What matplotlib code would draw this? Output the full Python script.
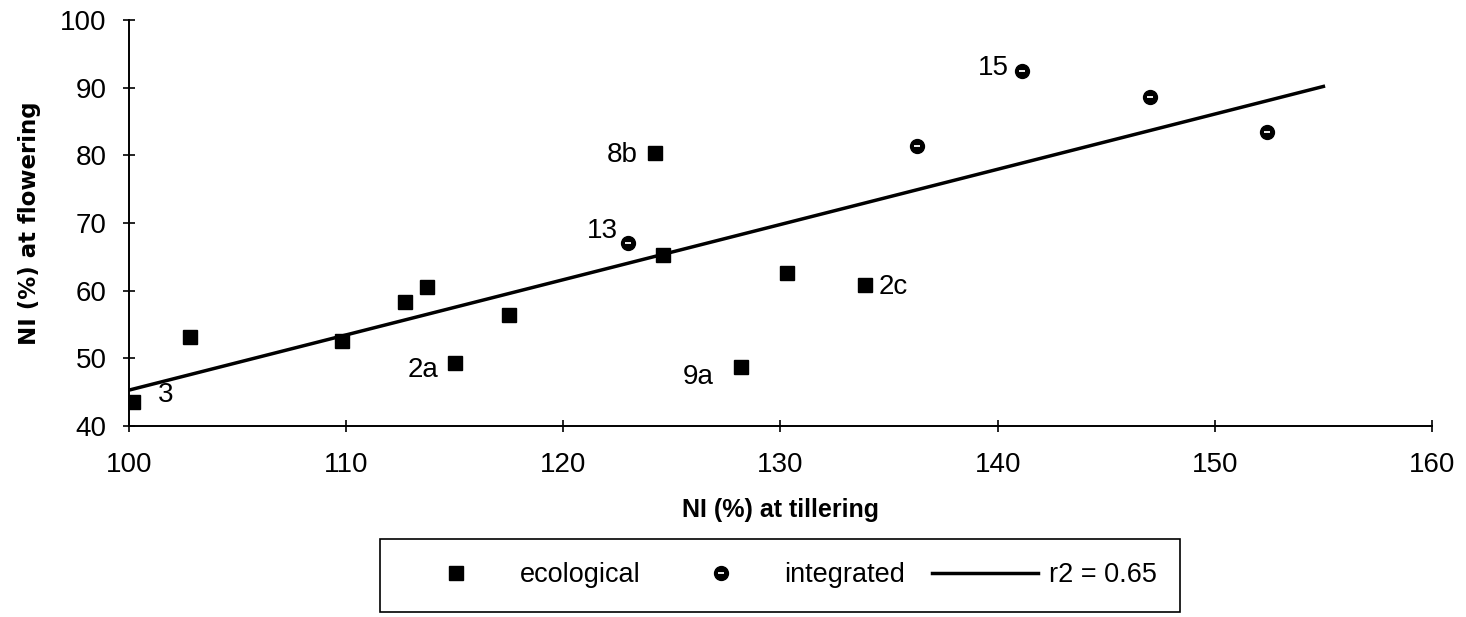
import numpy as np
import matplotlib.pyplot as plt
from matplotlib.legend_handler import HandlerTuple

plt.rcParams['font.family'] = ['Liberation Sans', 'DejaVu Sans']

# ecological farms: NI at tillering / NI at flowering
eco_x = [100.2, 102.8, 109.8, 112.7, 113.7, 115.0, 117.5, 124.2, 124.6, 130.3, 133.9, 128.2]
eco_y = [43.5, 53.2, 52.6, 58.3, 60.5, 49.3, 56.4, 80.3, 65.3, 62.6, 60.8, 48.7]
eco_names = ['3', '', '', '', '', '2a', '', '8b', '', '', '2c', '9a']

# integrated farms
int_x = [123.0, 136.3, 141.1, 147.0, 152.4]
int_y = [67.0, 81.4, 92.5, 88.6, 83.4]
int_names = ['13', '', '15', '', '']

# regression line over all farms
fit_slope = 0.816
fit_intercept = -36.3
fit_range = [100, 155]
r2 = 0.65

x_ticks = [100, 110, 120, 130, 140, 150, 160]
y_ticks = [40, 50, 60, 70, 80, 90, 100]

# where each farm label sits relative to its point (points)
label_offsets = {'3': (23, 5), '2a': (-23, -5), '8b': (-23, -1.5), '13': (-19, 9),
                 '9a': (-31, -7), '2c': (20, -1.5), '15': (-20, 2)}

fig = plt.figure(figsize=(14.66, 6.17), dpi=100)
ax = fig.add_axes([0.088, 0.3096, 0.8888, 0.658])

fx = np.array(fit_range, dtype=float)
line, = ax.plot(fx, fit_slope * fx + fit_intercept, color='black', lw=2.5, zorder=2)

sq, = ax.plot(eco_x, eco_y, ls='none', marker='s', ms=10.5, color='black', zorder=3)
dot, = ax.plot(int_x, int_y, ls='none', marker='o', ms=10, color='black', zorder=3)
dash, = ax.plot(int_x, int_y, ls='none', marker='_', ms=4.5, mew=1.3, color='white', zorder=4)

for xs, ys, names in [(eco_x, eco_y, eco_names), (int_x, int_y, int_names)]:
    for x, y, name in zip(xs, ys, names):
        if name:
            ax.annotate(name, (x, y), xytext=label_offsets[name], textcoords='offset points',
                        ha='center', va='center', fontsize=20)

ax.set_xlim(100, 160)
ax.set_ylim(40, 100)
ax.set_xticks(x_ticks)
ax.set_yticks(y_ticks)
for s in ['top', 'right']:
    ax.spines[s].set_visible(False)
for s in ['left', 'bottom']:
    ax.spines[s].set_linewidth(1.4)
ax.tick_params(direction='inout', length=8, width=1.2, labelsize=20)
ax.tick_params(axis='x', pad=15)
ax.tick_params(axis='y', pad=12)

ax.set_xlabel('NI (%) at tillering', fontsize=18, fontweight='bold', labelpad=14)
ax.set_ylabel('NI (%) at flowering', family='DejaVu Sans', fontsize=16.5,
              fontweight='bold', labelpad=14)

leg = fig.legend([sq, (dot, dash), line], ['ecological', 'integrated', f'r2 = {r2}'],
                 loc='center', bbox_to_anchor=(780 / 1466, 1 - 575.5 / 617),
                 ncol=3, fontsize=19.5, frameon=True, fancybox=False,
                 edgecolor='black', framealpha=1, borderpad=0.85, borderaxespad=0,
                 handlelength=3.9, handletextpad=0.4, columnspacing=1.0,
                 handler_map={tuple: HandlerTuple(ndivide=1, pad=0)})
leg.get_frame().set_linewidth(1.2)

fig.savefig('out.png', dpi=100)
